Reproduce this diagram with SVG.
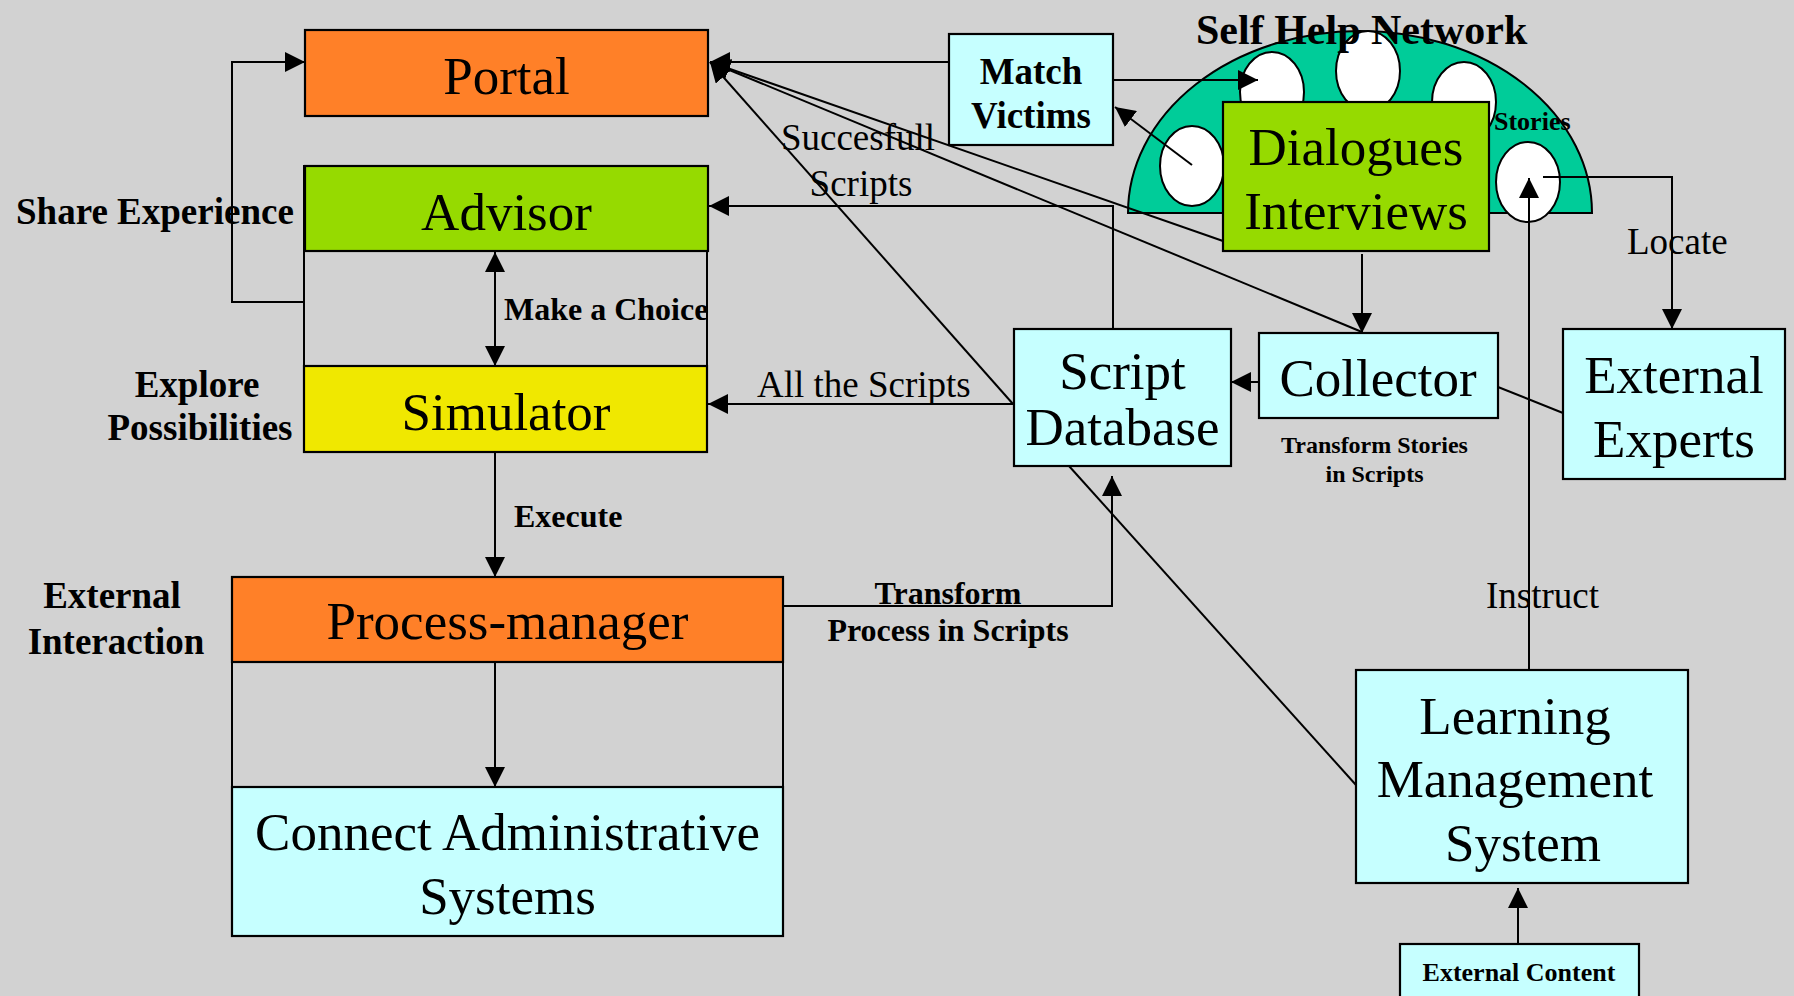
<svg xmlns="http://www.w3.org/2000/svg" width="1794" height="996" viewBox="0 0 1794 996">
<style>
.box{stroke:#000;stroke-width:2.2}
.orange{fill:#FF8028}
.green{fill:#96DA00}
.yellow{fill:#F0E800}
.cyan{fill:#C6FFFF}
.node{font-family:"Liberation Serif","Times New Roman",serif;font-size:53px;text-anchor:middle;fill:#000}
.lbl{font-family:"Liberation Serif","Times New Roman",serif;font-size:37px;fill:#000}
.b{font-weight:bold}
.con{fill:none;stroke:#000;stroke-width:2}
.ell{fill:#fff;stroke:#000;stroke-width:2}
</style>
<defs>
<marker id="ah" viewBox="0 0 20 20" refX="20" refY="10" markerWidth="20" markerHeight="20" markerUnits="userSpaceOnUse" orient="auto-start-reverse"><path d="M0,0 L20,10 L0,20 z" fill="#000"/></marker>
</defs>
<rect width="1794" height="996" fill="#D2D2D2"/>

<g id="self-help-network">
<path d="M1128,213 A232,182 0 0 1 1592,213 Z" fill="#00CC99" stroke="#000" stroke-width="2"/>
<ellipse class="ell" cx="1192" cy="166" rx="32" ry="40"/>
<ellipse class="ell" cx="1272" cy="92" rx="32" ry="40"/>
<ellipse class="ell" cx="1368" cy="71" rx="32" ry="40"/>
<ellipse class="ell" cx="1464" cy="102" rx="32" ry="40"/>
<ellipse class="ell" cx="1528" cy="182" rx="32" ry="40"/>
</g>

<g id="frames">
<rect x="304" y="166" width="403" height="286" class="con"/>
<rect x="232" y="577" width="551" height="359" class="con"/>
</g>

<g id="connectors">
<polyline class="con" points="305,302 232,302 232,62 305,62" marker-end="url(#ah)"/>
<line class="con" x1="495" y1="252" x2="495" y2="366" marker-start="url(#ah)" marker-end="url(#ah)"/>
<line class="con" x1="495" y1="452" x2="495" y2="577" marker-end="url(#ah)"/>
<line class="con" x1="495" y1="662" x2="495" y2="787" marker-end="url(#ah)"/>
<line class="con" x1="949" y1="62" x2="710" y2="62" marker-end="url(#ah)"/>
<line class="con" x1="1223" y1="241" x2="710" y2="62" marker-end="url(#ah)"/>
<line class="con" x1="1362" y1="332" x2="710" y2="62" marker-end="url(#ah)"/>
<line class="con" x1="1013" y1="404" x2="710" y2="62" marker-end="url(#ah)"/>
<polyline class="con" points="1113,329 1113,206 709,206" marker-end="url(#ah)"/>
<line class="con" x1="1013" y1="404" x2="708" y2="404" marker-end="url(#ah)"/>
<polyline class="con" points="783,606 1112,606 1112,476" marker-end="url(#ah)"/>
<line class="con" x1="1362" y1="254" x2="1362" y2="333" marker-end="url(#ah)"/>
<line class="con" x1="1258" y1="382" x2="1231" y2="382" marker-end="url(#ah)"/>
<line class="con" x1="1069" y1="466" x2="1356" y2="785"/>
<line class="con" x1="1498" y1="387" x2="1563" y2="413"/>
<polyline class="con" points="1543,177 1672,177 1672,329" marker-end="url(#ah)"/>
<line class="con" x1="1529" y1="670" x2="1529" y2="178" marker-end="url(#ah)"/>
<line class="con" x1="1518" y1="944" x2="1518" y2="888" marker-end="url(#ah)"/>
<line class="con" x1="1113" y1="80" x2="1258" y2="80" marker-end="url(#ah)"/>
<line class="con" x1="1192" y1="165" x2="1115" y2="107" marker-end="url(#ah)"/>
</g>

<g id="portal"><rect class="box orange" x="305" y="30" width="403" height="86"/><text class="node" x="506.5" y="94">Portal</text></g>
<g id="advisor"><rect class="box green" x="305" y="166" width="403" height="85"/><text class="node" x="506.5" y="230">Advisor</text></g>
<g id="simulator"><rect class="box yellow" x="304" y="366" width="403" height="86"/><text class="node" x="506" y="430">Simulator</text></g>
<g id="process-manager"><rect class="box orange" x="232" y="577" width="551" height="85"/><text class="node" x="507.5" y="639">Process-manager</text></g>
<g id="connect-admin"><rect class="box cyan" x="232" y="787" width="551" height="149"/><text class="node" x="507.5" y="850">Connect Administrative</text><text class="node" x="507.5" y="914">Systems</text></g>
<g id="match-victims"><rect class="box cyan" x="949" y="34" width="164" height="111"/><text class="lbl b" x="1031" y="84" text-anchor="middle">Match</text><text class="lbl b" x="1031" y="128" text-anchor="middle">Victims</text></g>
<g id="dialogues"><rect class="box green" x="1223" y="102" width="266" height="149"/><text class="node" x="1356" y="165">Dialogues</text><text class="node" x="1356" y="229">Interviews</text></g>
<g id="script-database"><rect class="box cyan" x="1014" y="329" width="217" height="137"/><text class="node" x="1122.5" y="389">Script</text><text class="node" x="1122.5" y="445">Database</text></g>
<g id="collector"><rect class="box cyan" x="1259" y="333" width="239" height="85"/><text class="node" x="1378" y="396">Collector</text></g>
<g id="external-experts"><rect class="box cyan" x="1563" y="329" width="222" height="150"/><text class="node" x="1674" y="393">External</text><text class="node" x="1674" y="457">Experts</text></g>
<g id="lms"><rect class="box cyan" x="1356" y="670" width="332" height="213"/><text class="node" x="1515" y="734">Learning</text><text class="node" x="1515" y="797">Management</text><text class="node" x="1523" y="861">System</text></g>
<g id="external-content"><rect class="box cyan" x="1400" y="944" width="239" height="70"/><text class="lbl b" x="1519" y="981" text-anchor="middle" style="font-size:26px">External Content</text></g>

<g id="labels">
<text class="lbl b" x="1196" y="44" style="font-size:42px">Self Help Network</text>
<text class="lbl b" x="1494" y="130" style="font-size:26px">Stories</text>
<text class="lbl" x="1627" y="254">Locate</text>
<text class="lbl" x="858" y="150" text-anchor="middle">Succesfull</text>
<text class="lbl" x="861" y="196" text-anchor="middle">Scripts</text>
<text class="lbl" x="757" y="397">All the Scripts</text>
<text class="lbl b" x="504" y="320" style="font-size:32px">Make a Choice</text>
<text class="lbl b" x="514" y="527" style="font-size:32px">Execute</text>
<text class="lbl b" x="948" y="604" text-anchor="middle" style="font-size:32px">Transform</text>
<text class="lbl b" x="948" y="641" text-anchor="middle" style="font-size:32px">Process in Scripts</text>
<text class="lbl b" x="1374.5" y="453" text-anchor="middle" style="font-size:24px">Transform Stories</text>
<text class="lbl b" x="1374.5" y="482" text-anchor="middle" style="font-size:24px">in Scripts</text>
<text class="lbl" x="1486" y="608">Instruct</text>
<text class="lbl b" x="16" y="224">Share Experience</text>
<text class="lbl b" x="197" y="397" text-anchor="middle">Explore</text>
<text class="lbl b" x="200" y="440" text-anchor="middle">Possibilities</text>
<text class="lbl b" x="112" y="608" text-anchor="middle">External</text>
<text class="lbl b" x="116" y="654" text-anchor="middle">Interaction</text>
</g>
</svg>
